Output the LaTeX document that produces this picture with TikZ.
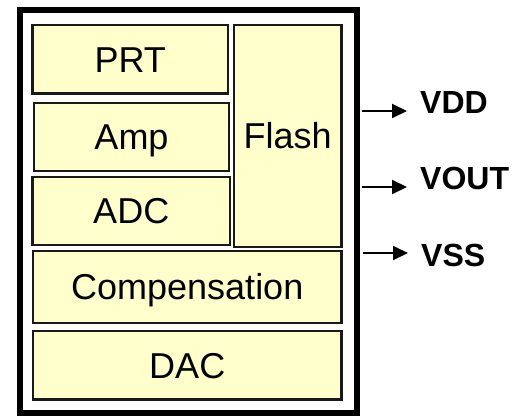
\documentclass[tikz,border=0pt]{standalone}
\usepackage{fontspec}
\setmainfont{Liberation Sans}
\usetikzlibrary{arrows.meta}
\definecolor{boxfill}{HTML}{FFFFCC}
\tikzset{
  blockbox/.style={draw=black!90, line width=2.5pt, fill=boxfill, rectangle, inner sep=0pt,
    font=\fontsize{36}{40}\selectfont, text height=25.8pt, text depth=0pt},
  frame/.style={draw=black, line width=6pt, rectangle, inner sep=0pt},
  pin/.style={line width=2pt, -{Triangle[length=15pt,width=14pt]}},
  pinlabel/.style={anchor=base west, inner sep=0pt, font=\bfseries\fontsize{32}{36}\selectfont}
}
\begin{document}
\begin{tikzpicture}[x=1pt,y=-1pt]
\useasboundingbox (0,0) rectangle (518,417);
\node[frame, minimum width=337pt, minimum height=403pt] (chip) at (188.5,211.5) {};
\node[blockbox, minimum width=195.5pt, minimum height=68.5pt] (prt) at (130.25,59.25) {PRT};
\node[blockbox, minimum width=195pt, minimum height=68pt] (amp) at (131.5,137) {Amp};
\node[blockbox, minimum width=197.5pt, minimum height=68pt] (adc) at (131.25,211) {ADC};
\node[blockbox, minimum width=107.5pt, minimum height=222pt] (flash) at (287.75,136) {Flash};
\node[blockbox, minimum width=308.5pt, minimum height=72pt] (comp) at (187.25,287) {Compensation};
\node[blockbox, minimum width=308.5pt, minimum height=68.5pt] (dac) at (187.25,365.25) {DAC};
\coordinate (vddS) at (362,111);
\coordinate (vddE) at (407,111);
\coordinate (voutS) at (362,187);
\coordinate (voutE) at (407,187);
\coordinate (vssS) at (363,253);
\coordinate (vssE) at (408,253);
\draw[pin] (vddS) -- (vddE);
\draw[pin] (voutS) -- (voutE);
\draw[pin] (vssS) -- (vssE);
\node[pinlabel] (vdd) at (420,113) {VDD};
\node[pinlabel] (vout) at (420,189) {VOUT};
\node[pinlabel] (vss) at (421,266) {VSS};
\end{tikzpicture}
\end{document}
